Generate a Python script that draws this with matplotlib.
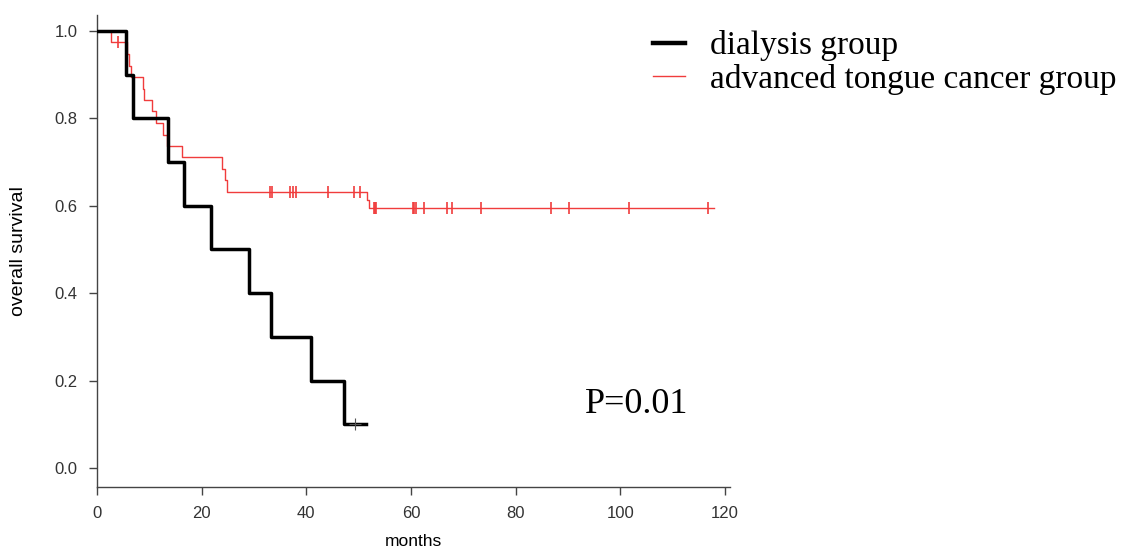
import numpy as np
import matplotlib
matplotlib.use('Agg')
import matplotlib.pyplot as plt
from matplotlib.lines import Line2D

# Kaplan-Meier steps (months, survival)
dialysis_times = [0, 5.5, 6.9, 13.6, 16.7, 21.8, 29.0, 33.3, 40.8, 47.2, 51.4]
dialysis_surv = [1.0, 0.9, 0.8, 0.7, 0.6, 0.5, 0.4, 0.3, 0.2, 0.1, 0.1]
dialysis_censor = [49.3]

tongue_times = [0, 2.7, 5.8, 6.1, 6.5, 8.7, 8.9, 10.6, 11.2, 12.7, 13.4, 16.3,
                23.9, 24.4, 24.9, 51.6, 52.0, 117.8]
tongue_surv = [1.0, 0.974, 0.947, 0.921, 0.895, 0.868, 0.842, 0.816, 0.790,
               0.763, 0.737, 0.711, 0.684, 0.658, 0.632, 0.613, 0.594, 0.594]
tongue_censor = [4.1, 33.1, 33.4, 36.8, 37.4, 38.0, 44.2, 49.1, 50.2,
                 52.9, 53.1, 53.3, 60.3, 60.6, 61.0, 62.4, 66.9, 67.8,
                 73.3, 86.7, 90.2, 101.6, 116.8]

legend_labels = ['dialysis group', 'advanced tongue cancer group']
p_text = 'P=0.01'

RED = '#f03c3c'


def level_at(times, surv, t):
    idx = np.searchsorted(times, t, side='right') - 1
    return np.array(surv)[idx]


fig = plt.figure(figsize=(11.21, 5.52), dpi=100)
ax = fig.add_axes([0.0865, 0.118, 0.565, 0.855])

ax.step(tongue_times, tongue_surv, where='post', color=RED, lw=1.0, zorder=2)
ax.plot(tongue_censor, level_at(tongue_times, tongue_surv, tongue_censor),
        ls='none', marker='|', ms=9, mew=1.2, color=RED, zorder=2)

ax.step(dialysis_times, dialysis_surv, where='post', color='black', lw=2.5,
        zorder=3)
ax.plot(dialysis_censor, level_at(dialysis_times, dialysis_surv, dialysis_censor),
        ls='none', marker='+', ms=9, mew=0.8, color='#555555', zorder=4)

ax.set_xlim(0, 121)
ax.set_ylim(-0.0435, 1.037)
ax.set_xticks(np.arange(0, 121, 20))
ax.set_yticks(np.arange(0, 1.01, 0.2))
ax.set_yticklabels(['%.1f' % v for v in np.arange(0, 1.01, 0.2)])
for s in ['top', 'right']:
    ax.spines[s].set_visible(False)
for s in ['left', 'bottom']:
    ax.spines[s].set_color('#444444')
    ax.spines[s].set_linewidth(1.0)
ax.tick_params(length=6, width=1, color='#444444', labelcolor='#333333',
               labelsize=12, pad=8)
for lab in ax.get_xticklabels() + ax.get_yticklabels():
    lab.set_family('Liberation Sans')

ax.set_xlabel('months', fontsize=12.5, family='Liberation Sans', labelpad=9)
ax.set_ylabel('overall survival', fontsize=14, family='Liberation Sans',
              labelpad=20)

handles = [Line2D([], [], color='black', lw=3.2),
           Line2D([], [], color=RED, lw=1.0)]
fig.legend(handles, legend_labels, loc='upper left',
           bbox_to_anchor=(0.5825, 0.945), frameon=False,
           prop={'family': 'Liberation Serif', 'size': 24},
           handlelength=0.95, handletextpad=0.75, labelspacing=0.08,
           borderaxespad=0, borderpad=0)

ax.text(93.3, 0.144, p_text, fontsize=26, family='Liberation Serif',
        ha='left', va='center')

fig.savefig('out.png', dpi=100)
